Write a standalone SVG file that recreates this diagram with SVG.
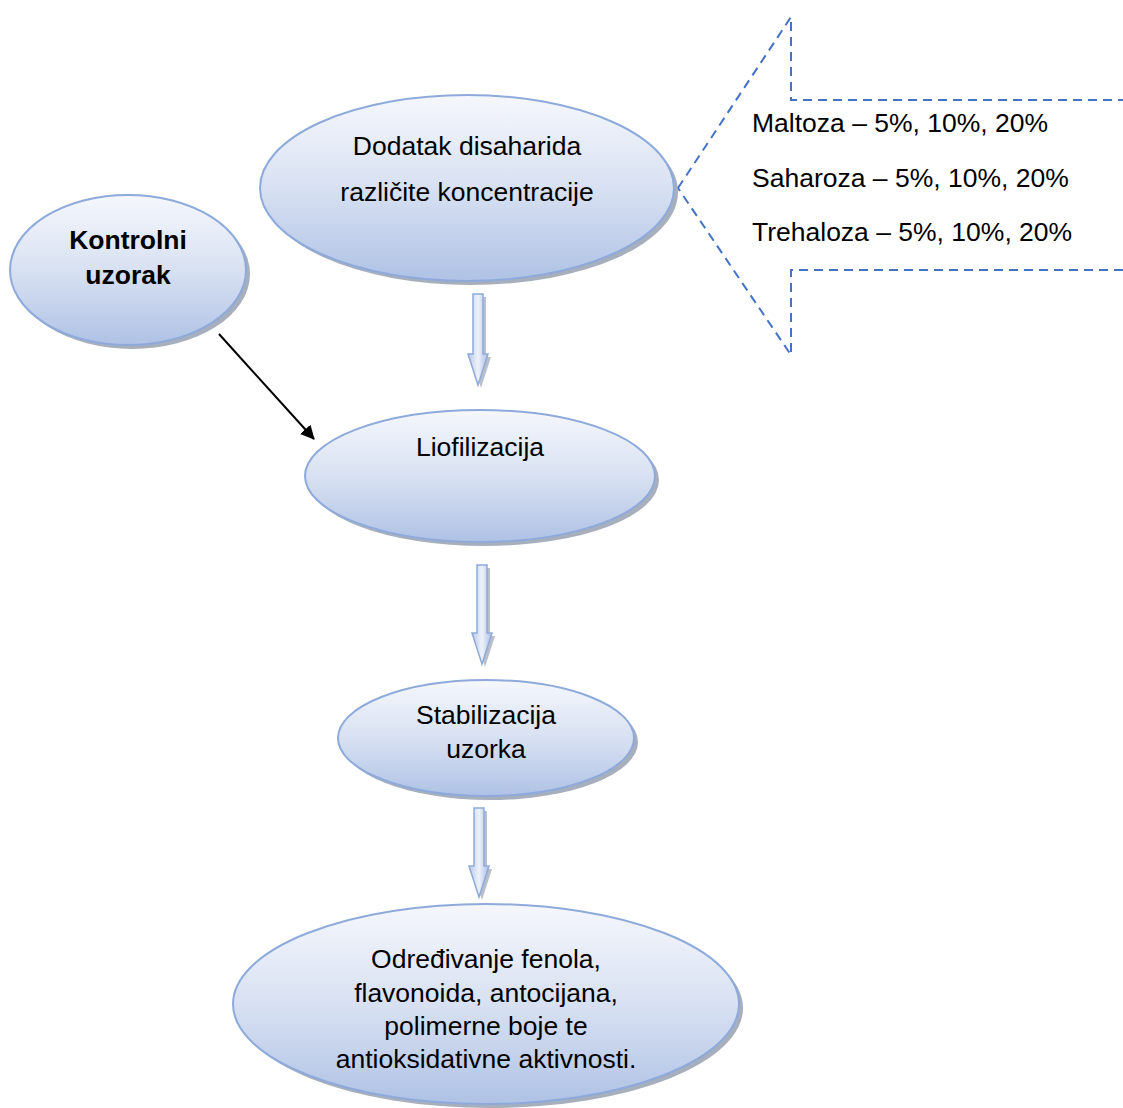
<svg xmlns="http://www.w3.org/2000/svg" width="1123" height="1108" viewBox="0 0 1123 1108">
<defs>
<linearGradient id="g" x1="0" y1="0" x2="0" y2="1">
<stop offset="0" stop-color="#f5f7fc"/>
<stop offset="0.5" stop-color="#d8e1f2"/>
<stop offset="1" stop-color="#afc2e5"/>
</linearGradient>
<linearGradient id="ga" x1="0" y1="0" x2="1" y2="0">
<stop offset="0" stop-color="#b8c9ea"/>
<stop offset="0.5" stop-color="#eef2fa"/>
<stop offset="1" stop-color="#a9bde3"/>
</linearGradient>
<marker id="ah" markerWidth="14" markerHeight="14" refX="13" refY="7" orient="auto" markerUnits="userSpaceOnUse" viewBox="0 0 14 14">
<path d="M0,0 L14,7 L0,14 z" fill="#000"/>
</marker>
</defs>
<style>
.sh{fill:#8a94a6;opacity:0.75}
.el{fill:url(#g);stroke:#8eaadb;stroke-width:2}
.t{font-family:"Liberation Sans",Arial,sans-serif;font-size:26.5px;fill:#000;text-anchor:middle}
.tb{font-weight:bold}
.tl{font-family:"Liberation Sans",Arial,sans-serif;font-size:26.5px;fill:#000}
.ba{fill:url(#ga);stroke:#8eaadb;stroke-width:1.5}
.bas{fill:#8a94a6;opacity:0.6}
</style>
<g id="node-dodatak">
<ellipse class="sh" cx="471" cy="192" rx="207" ry="93"/>
<ellipse class="el" cx="467" cy="188" rx="207" ry="93"/>
<text class="t" x="467" y="155">Dodatak disaharida</text>
<text class="t" x="467" y="201">različite koncentracije</text>
</g>
<g id="node-kontrolni">
<ellipse class="sh" cx="132" cy="274" rx="118" ry="75"/>
<ellipse class="el" cx="128" cy="270" rx="118" ry="75"/>
<text class="t tb" x="128" y="249">Kontrolni</text>
<text class="t tb" x="128" y="284">uzorak</text>
</g>
<g id="node-liofilizacija">
<ellipse class="sh" cx="484" cy="480" rx="175" ry="66"/>
<ellipse class="el" cx="480" cy="476" rx="175" ry="66"/>
<text class="t" x="480" y="456">Liofilizacija</text>
</g>
<g id="node-stabilizacija">
<ellipse class="sh" cx="490" cy="742" rx="148" ry="58"/>
<ellipse class="el" cx="486" cy="738" rx="148" ry="58"/>
<text class="t" x="486" y="724">Stabilizacija</text>
<text class="t" x="486" y="758">uzorka</text>
</g>
<g id="node-odredjivanje">
<ellipse class="sh" cx="490" cy="1008" rx="253" ry="100"/>
<ellipse class="el" cx="486" cy="1004" rx="253" ry="100"/>
<text class="t" x="486" y="968">Određivanje fenola,</text>
<text class="t" x="486" y="1002">flavonoida, antocijana,</text>
<text class="t" x="486" y="1035">polimerne boje te</text>
<text class="t" x="486" y="1068">antioksidativne aktivnosti.</text>
</g>
<g id="node-callout">
<path d="M678,188 L791,17 L791,100 L1123,100 M1123,270 L791,270 L791,355 L678,188" fill="none" stroke="#4472c4" stroke-width="2" stroke-dasharray="9,6"/>
<text class="tl" x="752" y="132">Maltoza – 5%, 10%, 20%</text>
<text class="tl" x="752" y="187">Saharoza – 5%, 10%, 20%</text>
<text class="tl" x="752" y="241">Trehaloza – 5%, 10%, 20%</text>
</g>
<g id="connectors">
<path class="bas" d="M476,297 L486,297 L486,357 L491,357 L481,388 L471,357 L476,357 z"/>
<path class="ba" d="M473,294 L483,294 L483,354 L488,354 L478,385 L468,354 L473,354 z"/>
<path class="bas" d="M480,568 L490,568 L490,636 L495,636 L485,667 L475,636 L480,636 z"/>
<path class="ba" d="M477,565 L487,565 L487,633 L492,633 L482,664 L472,633 L477,633 z"/>
<path class="bas" d="M477,811 L487,811 L487,869 L492,869 L482,900 L472,869 L477,869 z"/>
<path class="ba" d="M474,808 L484,808 L484,866 L489,866 L479,897 L469,866 L474,866 z"/>
<line x1="219" y1="334" x2="314" y2="439" stroke="#000" stroke-width="2" marker-end="url(#ah)"/>
</g>
</svg>
